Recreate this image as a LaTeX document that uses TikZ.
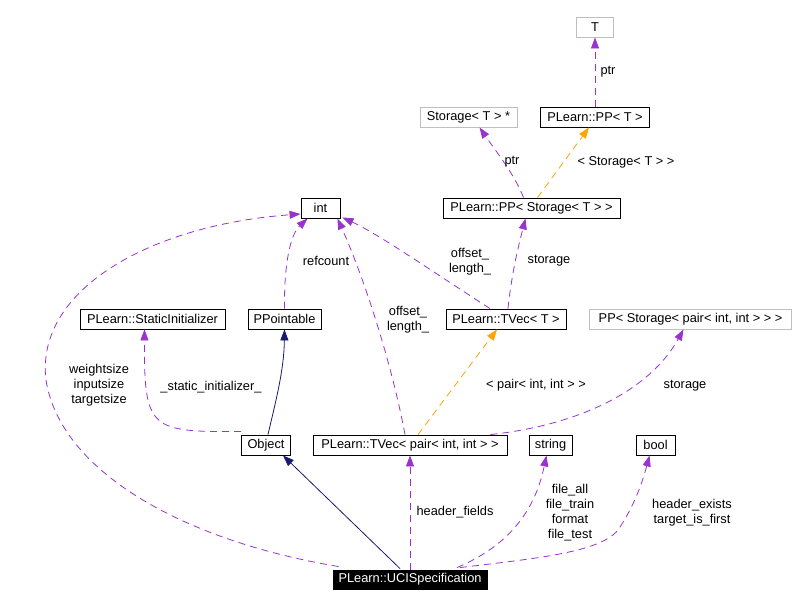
\documentclass[tikz,border=0pt]{standalone}
\usepackage{fontspec}
\setmainfont{Liberation Sans}
\usepackage{xcolor}
\usetikzlibrary{arrows.meta,calc}
\definecolor{orchid}{HTML}{9A32CD}
\definecolor{navy}{HTML}{191970}
\definecolor{tplorange}{HTML}{FFA500}
\definecolor{boxgray}{HTML}{BFBFBF}

\begin{document}
\begin{tikzpicture}[x=1pt, y=-1pt,
  every node/.style={font=\fontsize{12.8}{15}\selectfont, inner sep=0pt},
  box/.style={draw, line width=0.9pt, minimum height=20pt, align=center},
  gbox/.style={box, draw=boxgray},
  mainbox/.style={box, fill=black, text=white, minimum height=19pt},
  lbl/.style={align=center},
  tip/.style={-{Triangle[length=11pt, width=8pt]}},
  use/.style={tip, draw=orchid, line width=0.8pt, dash pattern=on 7pt off 5pt},
  tmpl/.style={tip, draw=tplorange, line width=0.8pt, dash pattern=on 7pt off 5pt},
  inh/.style={tip, draw=navy, line width=0.8pt}
]
\useasboundingbox (0,0) rectangle (797,606);

\node[gbox, minimum width=37pt] (tt) at (595,27) {T};
\node[box, minimum width=109pt] (ppT) at (595,117) {PLearn::PP< T >};
\node[gbox, minimum width=97pt] (stp) at (468.5,117) {Storage< T > *};
\node[box, minimum width=177pt] (pps) at (531.5,208) {PLearn::PP< Storage< T > >};
\node[box, minimum width=39pt] (int) at (320.5,208) {int};
\node[box, minimum width=145pt] (stat) at (152.5,319) {PLearn::StaticInitializer};
\node[box, minimum width=73pt] (ppt) at (284.5,319) {PPointable};
\node[box, minimum width=120pt] (tvt) at (506,319) {PLearn::TVec< T >};
\node[gbox, minimum width=202pt] (ppsp) at (690.5,319) {PP< Storage< pair< int, int > > >};
\node[box, minimum width=49pt] (obj) at (266,445) {Object};
\node[box, minimum width=194pt] (tvp) at (410,445) {PLearn::TVec< pair< int, int > >};
\node[box, minimum width=43pt] (str) at (550.5,445) {string};
\node[box, minimum width=39pt] (bool) at (655.5,445) {bool};
\node[mainbox, minimum width=154pt] (uci) at (410,579.5) {PLearn::UCISpecification};

\draw[inh] ($(uci.north)+(-10,-1)$) -- ($(obj.south)+(17,0)$);
\draw[inh] ($(obj.north)+(2,0)$) .. controls (276,400) and (284,370) .. (ppt.south);
\draw[use] ($(obj.north west)+(0,-3)$) .. controls (150,432) and (144,430) .. ($(stat.south)+(-8,0)$);
\draw[use] (ppt.north) .. controls (284,265) and (290,235) .. ($(int.south west)+(7,0)$);
\draw[use] ($(uci.north west)+(6,-3)$) .. controls (180,540) and (60,470) .. (46,380)
  .. controls (35,290) and (150,225) .. ($(int.west)+(0,6)$);
\draw[use] ($(tvp.north)+(-5,0)$) .. controls (392,365) and (365,280) .. ($(int.south east)+(-3,0)$);
\draw[use] ($(tvt.north)+(-16,0)$) .. controls (430,270) and (380,235) .. ($(int.south east)+(2,-1)$);
\draw[use] ($(tvt.north)+(2,0)$) .. controls (512,270) and (520,240) .. ($(pps.south)+(-6,0)$);
\draw[use] ($(pps.north)+(-8,0)$) .. controls (515,175) and (495,150) .. ($(stp.south)+(11,0)$);
\draw[tmpl] ($(pps.north)+(6,0)$) -- ($(ppT.south)+(-6,0)$);
\draw[use] (ppT.north) -- (tt.south);
\draw[tmpl] ($(tvp.north)+(8,0)$) -- ($(tvt.south)+(-9,0)$);
\draw[use] ($(tvp.north east)+(-17,0)$) .. controls (580,425) and (650,390) .. ($(ppsp.south)+(-7,0)$);
\draw[use] (uci.north) -- (tvp.south);
\draw[use] ($(uci.north)+(47,-2)$) .. controls (510,545) and (535,510) .. ($(str.south)+(-4,0)$);
\draw[use] ($(uci.north)+(50,-2)$) .. controls (540,558) and (600,552) .. (618,530)
  .. controls (635,505) and (643,480) .. ($(bool.south)+(-6,0)$);

\node[lbl] (lstat) at (211,387) {\_static\_initializer\_};
\node[lbl] (lsizes) at (99,385) {weightsize\\inputsize\\targetsize};
\node[lbl] (lref) at (326,261) {refcount};
\node[lbl] (loffp) at (408,320) {offset\_\\length\_};
\node[lbl] (lofft) at (470,262) {offset\_\\length\_};
\node[lbl] (lstort) at (549,261) {storage};
\node[lbl] (lptrs) at (512,162) {ptr};
\node[lbl] (ltpls) at (626,162) {< Storage< T > >};
\node[lbl] (lptrt) at (608,72) {ptr};
\node[lbl] (ltplp) at (536,385) {< pair< int, int > >};
\node[lbl] (lstorp) at (685,386) {storage};
\node[lbl] (lhead) at (455,512) {header\_fields};
\node[lbl] (lfile) at (570,513) {file\_all\\file\_train\\format\\file\_test};
\node[lbl] (lbool) at (692,513) {header\_exists\\target\_is\_first};
\end{tikzpicture}
\end{document}
